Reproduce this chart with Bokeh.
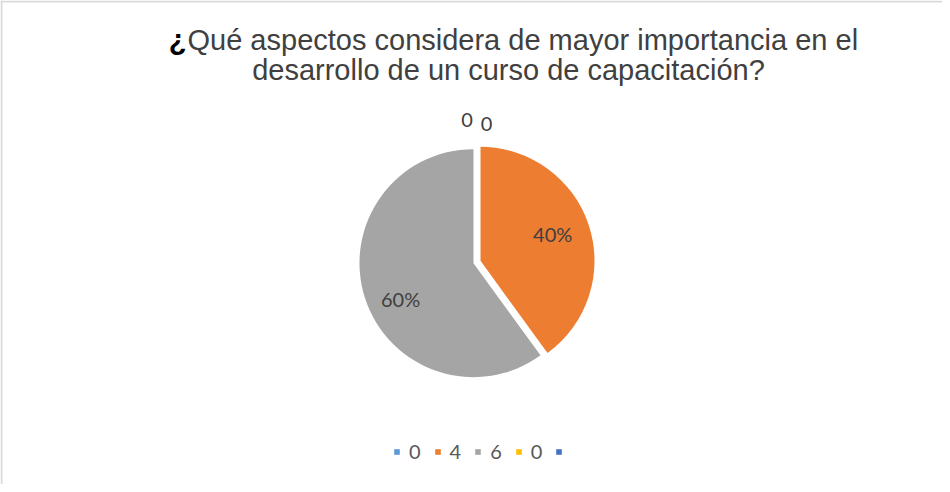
import math
from bokeh.plotting import figure
from bokeh.models import Range1d, Span, Legend, LegendItem, ColumnDataSource
from bokeh.core.properties import value
from bokeh.embed import file_html
from bokeh.resources import INLINE

# ---- data ----
categories = ["0", "4", "6", "0", ""]
values = [0, 4, 6, 0, 0]
slice_labels = ["0", "40%", "60%", "0", ""]
colors = ["#5B9BD5", "#ED7D31", "#A5A5A5", "#FFC000", "#4472C4"]
title_mark = "¿"
title_line1 = "Qué aspectos considera de mayor importancia en el"
title_line2 = "desarrollo de un curso de capacitación?"

# ---- layout constants (pixels) ----
W, H = 942, 484
CX, CY = 476.5, 222.5      # pie centre (data units == px)
R = 114.0                  # radius
EXPLODE = 3.7              # slice explosion offset
# label placement per slice: radius (px) and angular nudge (deg, clockwise)
label_radius = [138, 80.5, 85, 142, 0]
label_nudge = [4, -2, -8, -4, 0]

p = figure(width=W, height=H, output_backend="svg", toolbar_location=None,
           x_range=Range1d(0, W), y_range=Range1d(0, H),
           min_border=0, outline_line_color=None)
p.xaxis.visible = False
p.yaxis.visible = False
p.grid.visible = False
p.background_fill_color = "white"
p.border_fill_color = "white"

total = float(sum(values))
starts, ends, xs, ys, lx, ly, radii = [], [], [], [], [], [], []
cum = 0.0
for i, v in enumerate(values):
    f0 = cum / total
    cum += v
    f1 = cum / total
    a0 = math.pi / 2 - 2 * math.pi * f0
    a1 = math.pi / 2 - 2 * math.pi * f1
    starts.append(a0)
    ends.append(a1)
    mid = (a0 + a1) / 2
    ex = EXPLODE if v > 0 else 0.0
    xs.append(CX + ex * math.cos(mid))
    ys.append(CY + ex * math.sin(mid))
    radii.append(R if v > 0 else 0.0)   # zero-value slices draw nothing
    la = mid - math.radians(label_nudge[i])
    lx.append(CX + label_radius[i] * math.cos(la))
    ly.append(CY + label_radius[i] * math.sin(la))

src = ColumnDataSource(dict(x=xs, y=ys, start=starts, end=ends, color=colors,
                            r=radii, cat=categories))
wedges = p.wedge(x="x", y="y", radius="r", start_angle="start",
                 end_angle="end", direction="clock", fill_color="color",
                 line_color=None, source=src)

p.text(x=lx, y=ly, text=slice_labels, text_align="center",
       text_baseline="middle", text_font=value("Lato"),
       text_font_size="20px", text_color="#404040")

# title
X0 = 187
TS = "29px"
p.text(x=[X0 - 1], y=[445], text=[title_mark], text_align="right",
       text_baseline="alphabetic", text_font=value("Liberation Sans"),
       text_font_style="bold", text_font_size=TS, text_color="#000000")
p.text(x=[X0], y=[445], text=[title_line1], text_align="left",
       text_baseline="alphabetic", text_font=value("Liberation Sans"),
       text_font_size=TS, text_color="#404040")
p.text(x=[508], y=[415], text=[title_line2], text_align="center",
       text_baseline="alphabetic", text_font=value("Liberation Sans"),
       text_font_size=TS, text_color="#404040")

# legend
items = [LegendItem(label=value(c), renderers=[wedges], index=i)
         for i, c in enumerate(categories)]
legend = Legend(items=items, orientation="horizontal", location=(393, 21),
                glyph_width=7, glyph_height=7, label_text_font="Lato",
                label_text_font_size="20px", label_text_color="#595959",
                label_standoff=9, spacing=13, padding=0, margin=0,
                label_width=0, border_line_color=None,
                background_fill_alpha=0)
p.add_layout(legend)

# chart-area border (top and left visible)
p.add_layout(Span(location=H - 1, dimension="width", line_color="#D9D9D9",
                  line_width=2))
p.add_layout(Span(location=1, dimension="height", line_color="#D9D9D9",
                  line_width=2))

open("out.html", "w").write(file_html(p, INLINE))
